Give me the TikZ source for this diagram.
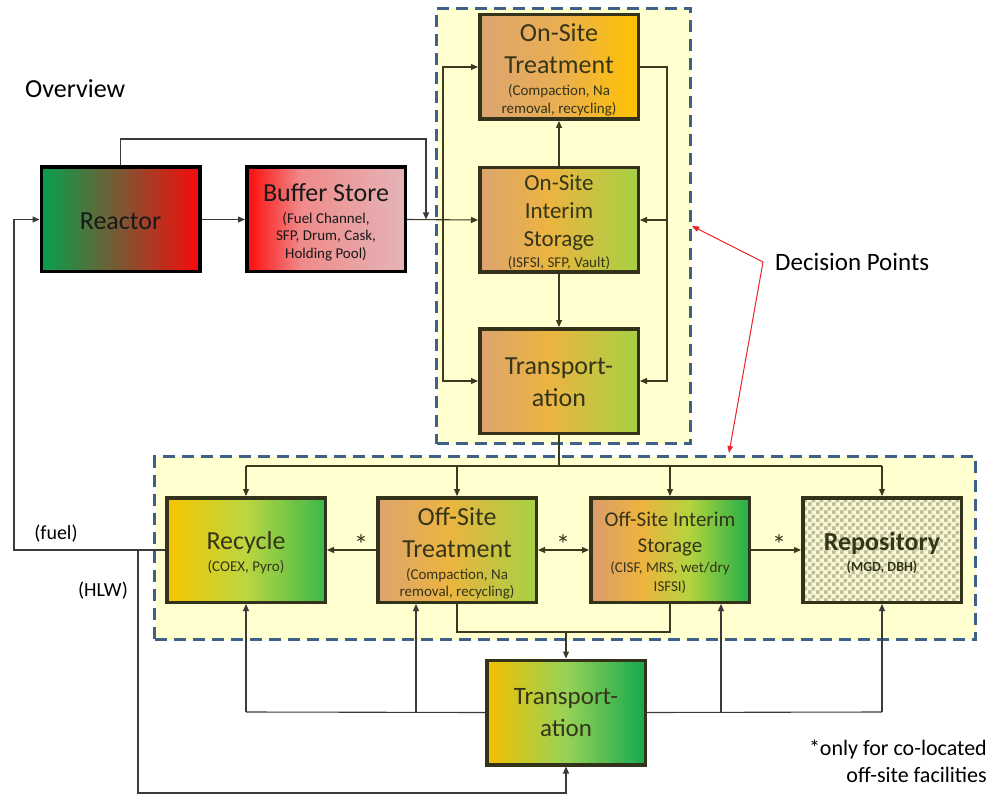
\documentclass[tikz,border=0pt]{standalone}
\usepackage{fontspec}
\setmainfont{Carlito}
\usetikzlibrary{arrows.meta,patterns,calc}

\definecolor{cYel}{HTML}{FFFFCF}
\definecolor{cDash}{HTML}{3F6189}
\definecolor{cConn}{HTML}{3A3A1E}
\definecolor{cDark}{HTML}{3A3A3A}
\definecolor{cBord}{HTML}{33321A}
\definecolor{cTxt}{HTML}{35351A}
\definecolor{cRedL}{HTML}{E8242A}
\definecolor{cCheck}{HTML}{BEBD98}
\definecolor{cCheckBg}{HTML}{F8F8D4}

\definecolor{rG}{HTML}{06A04E}\definecolor{rB}{HTML}{7D5632}\definecolor{rR}{HTML}{F80A0A}
\definecolor{bR}{HTML}{FF0A0A}\definecolor{bP}{HTML}{F08A8A}\definecolor{bL}{HTML}{E4B5B8}
\definecolor{tA}{HTML}{DCA570}\definecolor{tM}{HTML}{EAAE52}\definecolor{tY}{HTML}{FFC300}
\definecolor{iA}{HTML}{DCA46F}\definecolor{iO}{HTML}{ECB440}\definecolor{iG}{HTML}{A6D143}
\definecolor{yY}{HTML}{F7C400}\definecolor{yM}{HTML}{BCD640}\definecolor{yG}{HTML}{3CB84A}
\definecolor{oA}{HTML}{D99C6C}\definecolor{oO}{HTML}{EFB33E}\definecolor{oM}{HTML}{B4D43E}\definecolor{oG}{HTML}{22AF48}
\definecolor{pY}{HTML}{F4BF00}\definecolor{pM}{HTML}{98D257}\definecolor{pG}{HTML}{14A94F}

\pgfdeclarehorizontalshading{shReactor}{100bp}{color(0bp)=(rG); color(25bp)=(rG); color(50bp)=(rB); color(75bp)=(rR); color(100bp)=(rR)}
\pgfdeclarehorizontalshading{shBuffer}{100bp}{color(0bp)=(bR); color(25bp)=(bR); color(42bp)=(bP); color(75bp)=(bL); color(100bp)=(bL)}
\pgfdeclarehorizontalshading{shOST}{100bp}{color(0bp)=(tA); color(25bp)=(tA); color(50bp)=(tM); color(75bp)=(tY); color(100bp)=(tY)}
\pgfdeclarehorizontalshading{shOSI}{100bp}{color(0bp)=(iA); color(25bp)=(iA); color(47bp)=(iO); color(75bp)=(iG); color(100bp)=(iG)}
\pgfdeclarehorizontalshading{shRec}{100bp}{color(0bp)=(yY); color(25bp)=(yY); color(50bp)=(yM); color(75bp)=(yG); color(100bp)=(yG)}
\pgfdeclarehorizontalshading{shOffI}{100bp}{color(0bp)=(oA); color(25bp)=(oA); color(41bp)=(oO); color(56bp)=(oM); color(75bp)=(oG); color(100bp)=(oG)}
\pgfdeclarehorizontalshading{shT}{100bp}{color(0bp)=(pY); color(25bp)=(pY); color(50bp)=(pM); color(75bp)=(pG); color(100bp)=(pG)}

\pgfdeclarepatternformonly{mycheck}{\pgfpointorigin}{\pgfqpoint{8pt}{8pt}}{\pgfqpoint{8pt}{8pt}}{%
  \pgfpathrectangle{\pgfpointorigin}{\pgfqpoint{4pt}{4pt}}%
  \pgfpathrectangle{\pgfqpoint{4pt}{4pt}}{\pgfqpoint{4pt}{4pt}}%
  \pgfusepath{fill}}

\newcommand{\SubF}{\fontsize{15}{18}\selectfont}

\begin{document}
\begin{tikzpicture}[x=1pt,y=-1pt,
  region/.style={fill=cYel, draw=cDash, line width=3pt, dash pattern=on 12pt off 7pt, inner sep=0pt},
  box/.style={draw=cBord, line width=3.5pt, minimum width=158.5pt, minimum height=104.5pt, inner sep=0pt},
  txt/.style={inner sep=0pt, align=center, text=cTxt, font=\fontsize{26}{32}\selectfont},
  tip/.style={-{Triangle[length=7pt,width=6pt]}},
  conn/.style={draw=cConn, line width=1.1pt},
  dark/.style={draw=cDark, line width=1.1pt},
  redline/.style={draw=cRedL, line width=1pt, -{Triangle[length=7pt,width=5.5pt]}},
  lbl/.style={inner sep=0pt, text=black},
  star/.style={inner sep=0pt, text=cTxt, font=\fontsize{28}{30}\selectfont}
]
\useasboundingbox (0,0) rectangle (990,794);

% regions
\node[region, minimum width=254pt, minimum height=435pt] (topreg) at (563.5,226) {};
\node[region, minimum width=821pt, minimum height=183pt] (botreg) at (565,548) {};

% boxes
\node[box, draw=black, shading=shReactor] (reactor) at (120.5,219.5) {};
\node[box, draw=black, shading=shBuffer] (buffer) at (326,219.5) {};
\node[box, shading=shOST] (ost) at (559,67) {};
\node[box, shading=shOSI] (osi) at (559,220) {};
\node[box, shading=shOSI] (t1) at (559,381) {};
\node[box, shading=shRec] (recycle) at (246,550) {};
\node[box, shading=shOSI] (offT) at (457,550) {};
\node[box, shading=shOffI] (offI) at (670,550) {};
\node[box, preaction={fill=cCheckBg}, pattern=mycheck, pattern color=cCheck] (repo) at (882,550) {};
\node[box, shading=shT] (t2) at (566,712.5) {};

% box texts
\node[txt, text=black!90] (reactorT) at ([yshift=-1.5pt]reactor.center) {Reactor};
\node[txt, text=black!90] (bufferT) at ([yshift=-2.5pt]buffer.center)
  {Buffer Store\\[-10pt]{\SubF (Fuel Channel,}\\[-14.5pt]{\SubF SFP, Drum, Cask,}\\[-14.5pt]{\SubF Holding Pool)}};
\node[txt] (ostT) at ([yshift=-3pt]ost.center)
  {On-Site\\Treatment\\[-10.5pt]{\SubF (Compaction, Na}\\[-14pt]{\SubF removal, recycling)}};
\node[txt, font=\fontsize{23}{28.3}\selectfont] (osiT) at ([yshift=-2pt]osi.center)
  {On-Site\\Interim\\Storage\\[-7.5pt]{\SubF (ISFSI, SFP, Vault)}};
\node[txt] (t1T) at ([yshift=-1pt]t1.center) {Transport-\\ation};
\node[txt] (recycleT) at ([yshift=-3pt]recycle.center) {Recycle\\[-10.3pt]{\SubF (COEX, Pyro)}};
\node[txt] (offTT) at ([yshift=-3.5pt]offT.center)
  {Off-Site\\Treatment\\[-10.4pt]{\SubF (Compaction, Na}\\[-14.3pt]{\SubF removal, recycling)}};
\node[txt, font=\fontsize{21}{25.7}\selectfont] (offIT) at ([yshift=-2.5pt]offI.center)
  {Off-Site Interim\\Storage\\[-5.5pt]{\SubF (CISF, MRS, wet/dry}\\[-7pt]{\SubF ISFSI)}};
\node[txt, font=\fontsize{26}{32}\bfseries\selectfont] (repoT) at ([yshift=-3pt]repo.center)
  {Repository\\[-10.3pt]{\fontsize{14}{17}\bfseries\selectfont (MGD, DBH)}};
\node[txt, font=\fontsize{25}{31.7}\selectfont] (t2T) at (t2.center) {Transport-\\ation};

% labels
\node[lbl, anchor=west, font=\fontsize{26}{30}\selectfont] (overview) at (25,89) {Overview};
\node[lbl, anchor=west, font=\fontsize{25}{30}\selectfont] (decision) at (775,262) {Decision Points};
\node[lbl, font=\fontsize{20}{24}\selectfont] (fuel) at (56,534) {(fuel)};
\node[lbl, font=\fontsize{20}{24}\selectfont] (hlw) at (103,591) {(HLW)};
\node[lbl, anchor=east, align=right, font=\fontsize{22}{27}\selectfont] (note) at (987,761)
  {*only for co-located\\off-site facilities};
\node[star] (s1) at (361,545) {*};
\node[star] (s2) at (563,545) {*};
\node[star] (s3) at (779,545) {*};

% coordinates
\coordinate (jA) at (426,139);
\coordinate (jB) at (426,219.5);
\coordinate (lb) at (443,220);
\coordinate (rb) at (667,220);
\coordinate (bus) at (559,466);
\coordinate (busL) at (246,466);
\coordinate (busR) at (882,466);
\coordinate (jT) at (566,632);
\coordinate (lL) at (246,712);
\coordinate (l2) at (416,712);
\coordinate (l3) at (721,712);
\coordinate (lR) at (882,712);
\coordinate (fL) at (14,550);
\coordinate (hA) at (138,550);
\coordinate (hB) at (138,793);
\coordinate (dp) at (763,262);
\coordinate (dB) at (729,453);

% upper connectors
\draw[dark, tip] (reactor.north) |- (jA) -- (jB);
\draw[dark, tip] (reactor.east) -- (buffer.west);
\draw[conn, tip] (buffer.east) -- (osi.west);
\draw[conn, tip] (lb) |- (ost.west);
\draw[conn, tip] (lb) |- (t1.west);
\draw[conn] (ost.east) -| (rb);
\draw[conn, tip] (rb) -- (osi.east);
\draw[conn, tip] (rb) |- (t1.east);
\draw[conn, tip] (osi.north) -- (ost.south);
\draw[conn, tip] (osi.south) -- (t1.north);

% bus
\draw[conn] (t1.south) -- (bus);
\draw[conn] (busL) -- (busR);
\draw[conn, tip] (busL) -- (recycle.north);
\draw[conn, tip] (offT.north |- busL) -- (offT.north);
\draw[conn, tip] (offI.north |- busL) -- (offI.north);
\draw[conn, tip] (busR) -- (repo.north);

% bottom row
\draw[conn, tip] (offT.west) -- (recycle.east);
\draw[conn, {Triangle[length=7pt,width=6pt]}-{Triangle[length=7pt,width=6pt]}] (offT.east) -- (offI.west);
\draw[conn, tip] (offI.east) -- (repo.west);

\draw[conn] (offT.south) |- (jT) -| (offI.south);
\draw[conn, tip] (jT) -- (t2.north);

\draw[dark] (lL) -- (t2.west);
\draw[dark] (t2.east) -- (lR);
\draw[dark, tip] (lL) -- (recycle.south);
\draw[dark, tip] (l2) -- (l2 |- offT.south);
\draw[dark, tip] (l3) -- (l3 |- offI.south);
\draw[dark, tip] (lR) -- (repo.south);

% feedback
\draw[dark, tip] (recycle.west) -- (fL) |- (reactor.west);
\draw[dark, tip] (hA) -- (hB) -| (t2.south);

% decision pointers
\draw[redline] (dp) -- (topreg.east);
\draw[redline] (dp) -- (dB);
\end{tikzpicture}
\end{document}
